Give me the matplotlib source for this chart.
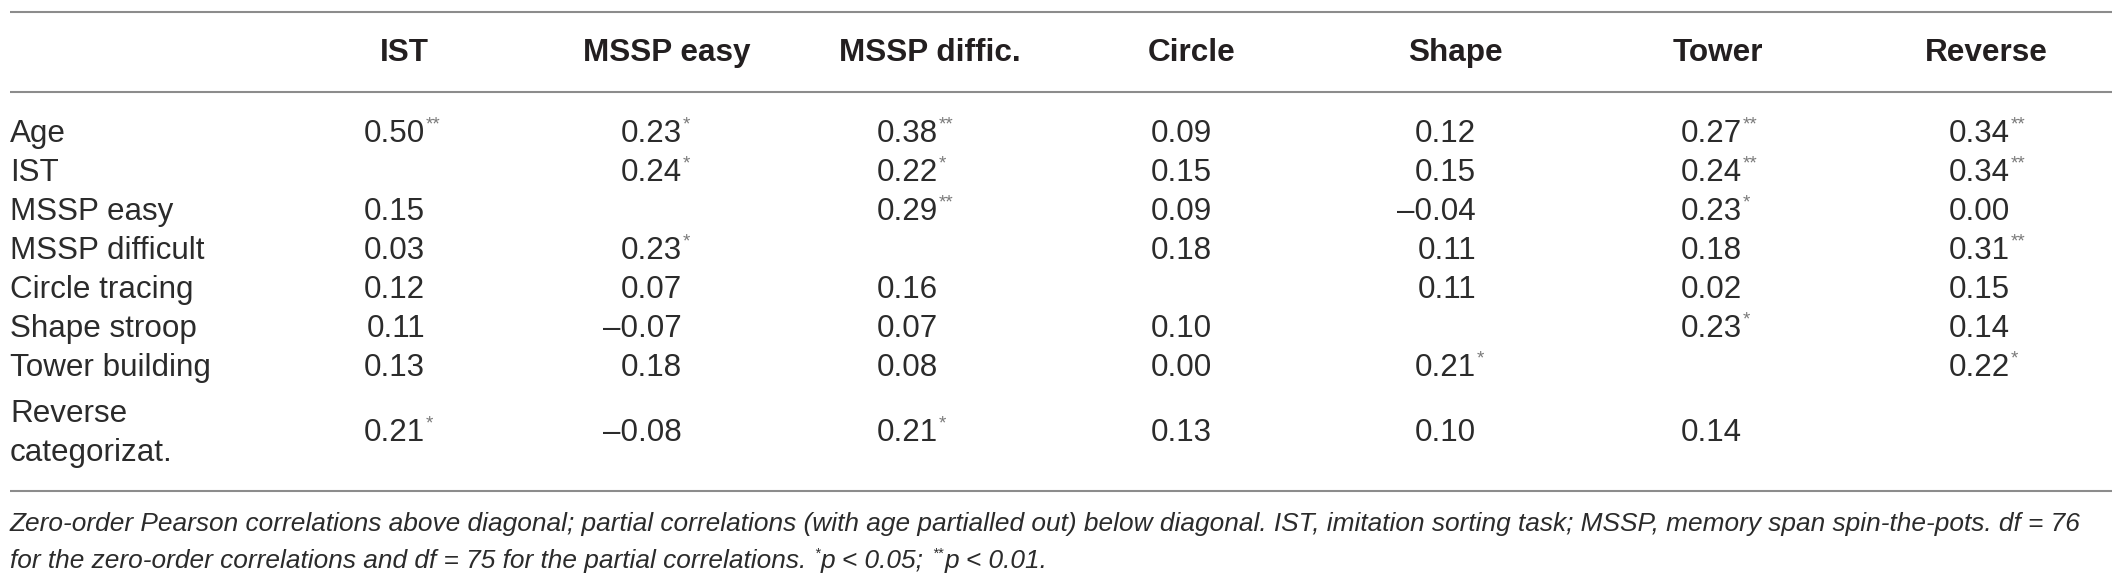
import matplotlib
matplotlib.use("Agg")
import matplotlib.pyplot as plt

# ---------------- data ----------------
row_labels = ["Age", "IST", "MSSP easy", "MSSP difficult", "Circle tracing",
              "Shape stroop", "Tower building", "Reverse\ncategorizat."]
col_labels = ["IST", "MSSP easy", "MSSP diffic.", "Circle", "Shape", "Tower", "Reverse"]
values = [
    [0.50, 0.23, 0.38, 0.09, 0.12, 0.27, 0.34],
    [None, 0.24, 0.22, 0.15, 0.15, 0.24, 0.34],
    [0.15, None, 0.29, 0.09, -0.04, 0.23, 0.00],
    [0.03, 0.23, None, 0.18, 0.11, 0.18, 0.31],
    [0.12, 0.07, 0.16, None, 0.11, 0.02, 0.15],
    [0.11, -0.07, 0.07, 0.10, None, 0.23, 0.14],
    [0.13, 0.18, 0.08, 0.00, 0.21, None, 0.22],
    [0.21, -0.08, 0.21, 0.13, 0.10, 0.14, None],
]
stars = [
    [2, 1, 2, 0, 0, 2, 2],
    [0, 1, 1, 0, 0, 2, 2],
    [0, 0, 2, 0, 0, 1, 0],
    [0, 1, 0, 0, 0, 0, 2],
    [0, 0, 0, 0, 0, 0, 0],
    [0, 0, 0, 0, 0, 1, 0],
    [0, 0, 0, 0, 1, 0, 1],
    [1, 0, 1, 0, 0, 0, 0],
]
foot_line1 = ("Zero-order Pearson correlations above diagonal; partial correlations (with age "
              "partialled out) below diagonal. IST, imitation sorting task; MSSP, memory span "
              "spin-the-pots. df = 76")
foot_line2_parts = [("for the zero-order correlations and df = 75 for the partial correlations. ", False),
                    ("*", True), ("p < 0.05; ", False), ("**", True), ("p < 0.01.", False)]

# ---------------- layout ----------------
W, H = 2124, 584
x_left, x_right = 10, 2112
line_ys = [12, 92, 491]
header_y = 53
col_centers = [404, 667, 930, 1192, 1455, 1718, 1986]
col_right = [425, 682, 938, 1212, 1476, 1742, 2010]
row_ys = [134, 173, 212, 251, 290, 329, 368, 433]
line_step = 39
foot_ys = [524, 561]
TXT = "#2b2b2b"
HEAD = "#231f20"
STAR = "#7a7a7a"
LINE = "#8c8c8c"
FAM = "Liberation Sans"

fig = plt.figure(figsize=(W / 100, H / 100), dpi=100)
ax = fig.add_axes([0, 0, 1, 1])
ax.set_xlim(0, W)
ax.set_ylim(H, 0)
ax.axis("off")
renderer = fig.canvas.get_renderer()


def fit(t, target):
    w = t.get_window_extent(renderer).width
    t.set_fontsize(t.get_fontsize() * target / w)
    return t.get_fontsize()


# rules
for y in line_ys:
    ax.plot([x_left, x_right], [y, y], color=LINE, lw=1.5, solid_capstyle="butt")

# font size calibration
probe = ax.text(0, -100, "MSSP difficult", family=FAM, fontsize=20)
body_fs = fit(probe, 194)
probe.remove()
probe = ax.text(0, -100, "MSSP easy", family=FAM, weight="bold", fontsize=20)
head_fs = fit(probe, 168)
probe.remove()

# headers
for c, lab in enumerate(col_labels):
    ax.text(col_centers[c], header_y, lab, ha="center", va="center", family=FAM,
            weight="bold", fontsize=head_fs, color=HEAD)

# row labels (multi-line labels laid out line by line around the row centre)
for r, lab in enumerate(row_labels):
    parts = lab.split("\n")
    n = len(parts)
    for i, part in enumerate(parts):
        y = row_ys[r] + (i - (n - 1) / 2) * line_step
        ax.text(x_left, y, part, ha="left", va="center", family=FAM,
                fontsize=body_fs, color=TXT)

# values
for r in range(len(row_labels)):
    for c in range(len(col_labels)):
        v = values[r][c]
        if v is None:
            continue
        s = f"{v:.2f}".replace("-", "\u2013")
        ax.text(col_right[c], row_ys[r], s, ha="right", va="center", family=FAM,
                fontsize=body_fs, color=TXT)
        if stars[r][c]:
            ax.text(col_right[c] + 1, row_ys[r] - 9, "*" * stars[r][c], ha="left",
                    va="center", family=FAM, fontsize=body_fs * 0.6, color=STAR)

# footnote
t1 = ax.text(x_left, foot_ys[0], foot_line1, ha="left", va="center", family=FAM,
             style="italic", fontsize=16, color=TXT)
foot_fs = fit(t1, 2071)

x = x_left
for txt, sup in foot_line2_parts:
    if sup:
        t = ax.text(x + 1, foot_ys[1] - 7, txt, ha="left", va="center", family=FAM,
                    style="italic", fontsize=foot_fs * 0.55, color=TXT)
    else:
        t = ax.text(x, foot_ys[1], txt, ha="left", va="center", family=FAM,
                    style="italic", fontsize=foot_fs, color=TXT)
    bb = t.get_window_extent(renderer)
    x = bb.x1 + (1 if sup else 0)

fig.savefig("out.png", dpi=100, facecolor="white")
